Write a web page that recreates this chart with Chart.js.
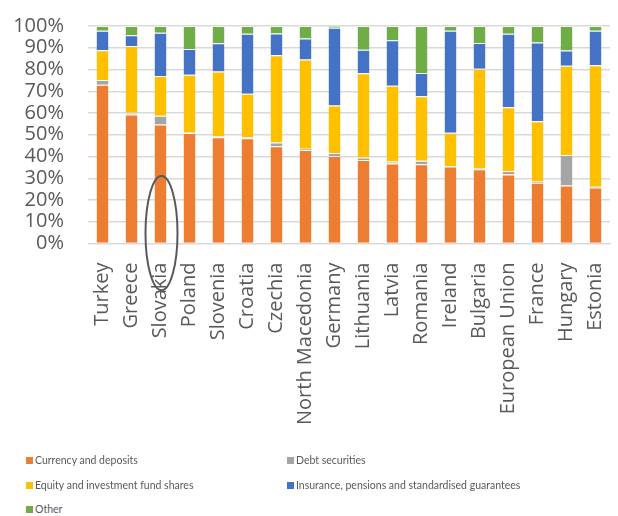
<!DOCTYPE html>
<html>
<head>
<meta charset="utf-8">
<script src="https://cdn.jsdelivr.net/npm/chart.js@4"></script>
<style>
  html, body { margin: 0; padding: 0; background: #fff; }
  #wrap { position: relative; width: 618px; height: 516px; overflow: hidden; }
  #c { position: absolute; left: 0; top: 0; }
  .lg { position: absolute; font-family: Lato, "Liberation Sans", sans-serif; font-size: 10.5px; color: #595959; white-space: nowrap; line-height: 12px; }
  .lg span.b { display: inline-block; width: 7px; height: 7px; margin-right: 2px; vertical-align: 0px; }
</style>
</head>
<body>
<div id="wrap">
  <canvas id="c" width="618" height="460"></canvas>
  <div id="legend"></div>
</div>
<script>
const categories = ["Turkey","Greece","Slovakia","Poland","Slovenia","Croatia","Czechia","North Macedonia","Germany","Lithuania","Latvia","Romania","Ireland","Bulgaria","European Union","France","Hungary","Estonia"];
const currencyDeposits = [73.0,59.3,54.7,50.8,48.9,48.4,44.7,43.0,40.2,38.4,36.8,36.5,35.4,34.2,31.7,28.0,26.7,25.8];
const debtSecurities   = [2.2,0.8,4.0,0.4,0.4,0.5,1.7,0.6,1.4,1.2,0.9,1.5,0.1,0.3,1.7,0.7,14.0,0.3];
const equityShares     = [13.6,30.7,18.3,26.4,29.8,20.0,40.1,41.0,21.9,38.7,34.8,29.7,15.4,45.8,29.3,27.5,41.0,55.9];
const insurance        = [9.0,5.0,19.9,11.8,13.0,27.5,10.1,9.7,35.7,10.8,21.0,10.7,46.9,11.9,33.7,36.2,7.0,15.8];
const other            = [2.2,4.2,3.1,10.6,7.9,3.6,3.4,5.7,0.8,10.9,6.5,21.6,2.2,7.8,3.6,7.6,11.3,2.2];
const seriesNames = ["Currency and deposits","Debt securities","Equity and investment fund shares","Insurance, pensions and standardised guarantees","Other"];
const yTicks = [0,10,20,30,40,50,60,70,80,90,100];
const highlightIndex = 2; // Slovakia circled
const highlightTop = 31, highlightBottom = -21.5;

const colors = ["#ED7D31","#A5A5A5","#FFC000","#4472C4","#70AD47"];
const seriesData = [currencyDeposits, debtSecurities, equityShares, insurance, other];

const ellipsePlugin = {
  id: 'ellipse',
  afterDraw(chart) {
    const x = chart.scales.x, y = chart.scales.y, ctx = chart.ctx;
    const cx = x.getPixelForValue(highlightIndex) + 1;
    const top = y.getPixelForValue(highlightTop);
    const bot = y.getPixelForValue(highlightBottom);
    ctx.save();
    ctx.beginPath();
    ctx.ellipse(cx, (top + bot) / 2, 16, (bot - top) / 2, 0, 0, Math.PI * 2);
    ctx.strokeStyle = "#595959";
    ctx.lineWidth = 2;
    ctx.stroke();
    ctx.restore();
  }
};

new Chart(document.getElementById('c'), {
  type: 'bar',
  data: {
    labels: categories,
    datasets: seriesData.map((d, i) => ({
      label: seriesNames[i],
      data: d,
      backgroundColor: colors[i],
      borderColor: 'rgba(255,255,255,0.45)',
      borderWidth: {top: 1, bottom: 0, left: 0, right: 0},
      borderSkipped: false,
      barPercentage: 0.41,
      categoryPercentage: 1.0
    }))
  },
  options: {
    responsive: false,
    animation: false,
    layout: { padding: { left: 12, right: 8, top: 26, bottom: 16 } },
    plugins: { legend: { display: false }, tooltip: { enabled: false } },
    scales: {
      x: {
        stacked: true,
        grid: { display: false, drawTicks: false },
        border: { display: true, color: '#d9d9d9', width: 1 },
        ticks: {
          color: '#595959',
          font: { family: '"Open Sans"', size: 20 },
          minRotation: 90, maxRotation: 90, padding: 19, autoSkip: false
        },
        afterFit(scale) { scale.paddingLeft = 0; scale.paddingRight = 0; }
      },
      y: {
        stacked: true,
        min: 0, max: 100,
        afterBuildTicks(scale) { scale.ticks = yTicks.map(v => ({ value: v })); },
        grid: { color: '#d9d9d9', lineWidth: 1.5, drawTicks: false },
        border: { display: false },
        ticks: {
          color: '#595959',
          font: { family: '"Open Sans"', size: 20 },
          padding: 24,
          autoSkip: false,
          callback: v => v + '%'
        },
        afterFit(scale) { scale.width = 76; scale.paddingTop = 0; scale.paddingBottom = 0; }
      }
    }
  },
  plugins: [ellipsePlugin]
});

const legendPos = [[26,454],[287,454],[26,479],[287,479],[26,503]];
const lg = document.getElementById('legend');
seriesNames.forEach((n, i) => {
  const d = document.createElement('div');
  d.className = 'lg';
  d.style.left = legendPos[i][0] + 'px';
  d.style.top = legendPos[i][1] + 'px';
  d.innerHTML = '<span class="b" style="background:' + colors[i] + '"></span>' + n;
  lg.appendChild(d);
});
</script>
</body>
</html>
